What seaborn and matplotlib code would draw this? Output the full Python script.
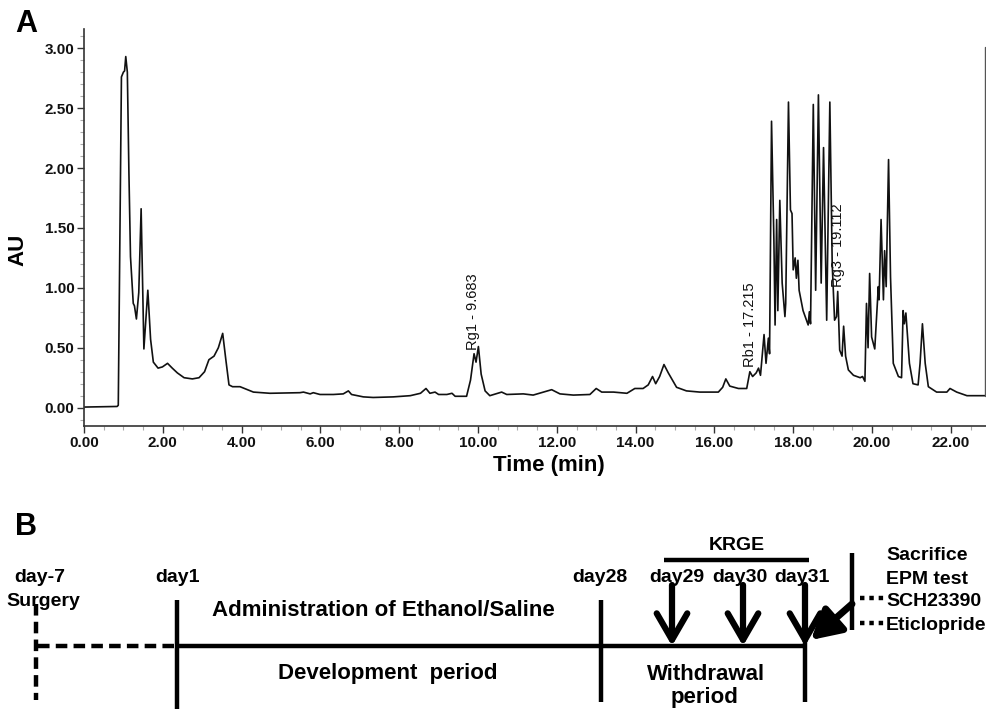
import numpy as np
import pandas as pd
import matplotlib
matplotlib.use("Agg")
import matplotlib.pyplot as plt
from matplotlib.ticker import MultipleLocator, FormatStrFormatter
import seaborn as sns

# ---------------- data ----------------
rt_min = [0.00, 0.84, 0.87, 0.95, 1.00, 1.03, 1.06, 1.10, 1.14, 1.18, 1.25, 1.28, 1.33, 1.39,
          1.45, 1.52, 1.62, 1.69, 1.76, 1.88, 1.99, 2.12, 2.24, 2.37, 2.54, 2.75, 2.92, 3.06,
          3.17, 3.30, 3.41, 3.52, 3.60, 3.68, 3.77, 3.96, 4.30, 4.72, 5.48, 5.57, 5.74, 5.82,
          5.99, 6.33, 6.58, 6.71, 6.79, 7.09, 7.34, 7.85, 8.28, 8.54, 8.68, 8.78, 8.91, 9.00,
          9.21, 9.34, 9.42, 9.71, 9.81, 9.90, 9.95, 10.01, 10.08, 10.18, 10.30, 10.60, 10.73,
          11.15, 11.40, 11.87, 12.08, 12.42, 12.84, 13.00, 13.14, 13.44, 13.78, 13.98, 14.19,
          14.32, 14.43, 14.51, 14.61, 14.72, 14.83, 15.04, 15.29, 15.63, 16.10, 16.21, 16.29,
          16.39, 16.61, 16.82, 16.86, 16.90, 16.97, 17.06, 17.12, 17.17, 17.26, 17.31, 17.37,
          17.40, 17.45, 17.51, 17.54, 17.58, 17.61, 17.66, 17.72, 17.79, 17.81, 17.88, 17.93,
          17.97, 18.00, 18.05, 18.08, 18.12, 18.15, 18.25, 18.38, 18.41, 18.44, 18.51, 18.57,
          18.64, 18.71, 18.77, 18.85, 18.93, 18.99, 19.05, 19.10, 19.13, 19.18, 19.24, 19.28,
          19.33, 19.40, 19.53, 19.70, 19.76, 19.82, 19.86, 19.90, 19.94, 19.99, 20.07, 20.16,
          20.18, 20.23, 20.29, 20.32, 20.36, 20.42, 20.47, 20.54, 20.67, 20.75, 20.79, 20.82,
          20.86, 20.95, 21.04, 21.17, 21.22, 21.28, 21.35, 21.43, 21.64, 21.90, 21.98, 22.15,
          22.41, 22.88]
absorbance = [0.005, 0.010, 0.02, 2.76, 2.80, 2.81, 2.93, 2.80, 1.96, 1.26, 0.87, 0.85, 0.74, 0.96,
              1.66, 0.49, 0.98, 0.57, 0.38, 0.33, 0.34, 0.37, 0.33, 0.29, 0.25, 0.24, 0.25, 0.30,
              0.40, 0.43, 0.50, 0.62, 0.40, 0.19, 0.175, 0.175, 0.13, 0.12, 0.125, 0.13, 0.115, 0.125,
              0.11, 0.11, 0.115, 0.14, 0.11, 0.09, 0.085, 0.09, 0.10, 0.12, 0.16, 0.12, 0.13, 0.11,
              0.11, 0.12, 0.095, 0.095, 0.23, 0.45, 0.38, 0.51, 0.28, 0.14, 0.10, 0.13, 0.11,
              0.115, 0.105, 0.15, 0.115, 0.105, 0.11, 0.16, 0.13, 0.13, 0.12, 0.16, 0.16,
              0.19, 0.26, 0.20, 0.26, 0.36, 0.29, 0.17, 0.14, 0.13, 0.13, 0.17, 0.24,
              0.18, 0.16, 0.16, 0.23, 0.30, 0.26, 0.29, 0.33, 0.27, 0.61, 0.37, 0.58,
              0.45, 2.39, 1.40, 0.69, 1.57, 0.81, 1.73, 1.04, 0.76, 0.87, 2.55, 1.65,
              1.62, 1.15, 1.25, 1.08, 1.23, 0.98, 0.81, 0.69, 0.80, 0.70, 2.53, 0.98,
              2.61, 1.04, 2.17, 0.73, 2.55, 1.20, 0.73, 0.76, 0.97, 0.48, 0.43, 0.68,
              0.43, 0.315, 0.27, 0.25, 0.26, 0.22, 0.87, 0.50, 1.12, 0.59, 0.49, 1.01,
              0.90, 1.57, 0.90, 1.31, 1.01, 2.07, 1.09, 0.37, 0.26, 0.25, 0.81, 0.70,
              0.79, 0.37, 0.20, 0.19, 0.37, 0.70, 0.37, 0.175, 0.13, 0.13, 0.16, 0.13,
              0.10, 0.10]

peak_names = ["Rg1", "Rb1", "Rg3"]
peak_times = [9.683, 17.215, 19.112]
label_x = [9.87, 16.90, 19.14]
label_y = [0.48, 0.34, 1.01]

x_ticks = [0, 2, 4, 6, 8, 10, 12, 14, 16, 18, 20, 22]
y_ticks = [0.0, 0.5, 1.0, 1.5, 2.0, 2.5, 3.0]

day_labels = ["day-7", "day1", "day28", "day29", "day30", "day31"]
treatments = ["Sacrifice", "EPM test", "SCH23390", "Eticlopride"]

# ---------------- style ----------------
sns.set_theme(style="white")
plt.rcParams["font.family"] = ["Liberation Sans", "DejaVu Sans"]
plt.rcParams["text.color"] = "black"
plt.rcParams["axes.labelcolor"] = "black"
plt.rcParams["xtick.color"] = "black"
plt.rcParams["ytick.color"] = "black"

W, H = 986, 709
fig = plt.figure(figsize=(W / 100, H / 100), dpi=100)

# ---------------- panel A ----------------
ax = fig.add_axes([84 / W, 1 - 426 / H, (W - 84) / W, (426 - 29) / H])
df = pd.DataFrame({"Time (min)": rt_min, "AU": absorbance})
sns.lineplot(data=df, x="Time (min)", y="AU", ax=ax, estimator=None, sort=False,
             color="#111111", lw=1.2)
ax.set_xlim(0, (W - 84) / 39.4)
ax.set_ylim(-0.153, 3.16)
ax.set_xticks(x_ticks)
ax.set_yticks(y_ticks)
ax.xaxis.set_major_formatter(FormatStrFormatter("%.2f"))
ax.yaxis.set_major_formatter(FormatStrFormatter("%.2f"))
ax.xaxis.set_minor_locator(MultipleLocator(0.5))
ax.yaxis.set_minor_locator(MultipleLocator(0.1))
ax.tick_params(axis="both", which="major", direction="out", length=5, width=1.0,
               color="#333333", labelsize=11, pad=2, bottom=True, left=True,
               labelcolor="#111111")
ax.tick_params(axis="both", which="minor", direction="out", length=3, width=0.8,
               color="#aaaaaa", bottom=True, left=True)
for lab in ax.get_xticklabels() + ax.get_yticklabels():
    lab.set_fontweight("bold")
for s in ["top", "right"]:
    ax.spines[s].set_visible(False)
for s in ["left", "bottom"]:
    ax.spines[s].set_color("#333333")
    ax.spines[s].set_linewidth(1.2)
ax.set_xlabel("")
ax.set_ylabel("")
ax.plot([22.87, 22.87], [0.10, 3.01], color="#555555", lw=1.0, clip_on=False)

for name, t, lx, ly in zip(peak_names, peak_times, label_x, label_y):
    ax.text(lx, ly, f"{name} - {t:.3f}", rotation=90, ha="center", va="bottom",
            fontsize=10.5, color="#111111")

# ---------------- panel B (schematic, pixel coordinates) ----------------
bx = fig.add_axes([0, 0, 1, 1], facecolor="none")
bx.set_xlim(0, W)
bx.set_ylim(H, 0)
bx.axis("off")

fig.text(15 / W, 1 - 24 / H, "A", fontsize=22, fontweight="bold", ha="left", va="center")
fig.text(15 / W, 1 - 527 / H, "B", fontsize=22, fontweight="bold", ha="left", va="center")
fig.text(18 / W, 1 - 250 / H, "AU", fontsize=16, fontweight="bold", rotation=90,
         ha="center", va="center")
fig.text(549 / W, 1 - 465 / H, "Time (min)", fontsize=16, fontweight="bold",
         ha="center", va="center")

k = "black"
lw = 3.2
# dashed surgery lines
bx.plot([36, 36], [604, 700], color=k, lw=lw, ls=(0, (2.6, 1.4)), solid_capstyle="butt")
bx.plot([38, 176], [646, 646], color=k, lw=lw, ls=(0, (2.6, 1.4)), solid_capstyle="butt")
# solid timeline
bx.plot([177, 805], [646, 646], color=k, lw=lw, solid_capstyle="butt")
bx.plot([177, 177], [600, 709], color=k, lw=lw, solid_capstyle="butt")
bx.plot([601, 601], [600, 702], color=k, lw=lw, solid_capstyle="butt")
bx.plot([805, 805], [585, 702], color=k, lw=lw, solid_capstyle="butt")
# KRGE bar
bx.plot([664, 809], [560, 560], color=k, lw=lw, solid_capstyle="butt")
bx.text(737, 545, "KRGE", fontsize=14, fontweight="bold", ha="center", va="center")
# KRGE arrows
for xa in [672, 743, 805]:
    bx.annotate("", xy=(xa, 646), xytext=(xa, 585),
                arrowprops=dict(arrowstyle="->,head_length=0.95,head_width=0.55",
                                lw=4.5, color=k, shrinkA=0, shrinkB=0,
                                mutation_scale=20))
# test bar and filled arrow
bx.plot([852, 852], [553, 630], color=k, lw=lw, solid_capstyle="butt")
bx.annotate("", xy=(811, 640), xytext=(852, 604),
            arrowprops=dict(arrowstyle="-|>,head_length=0.8,head_width=0.45",
                            lw=5, color=k, shrinkA=0, shrinkB=0, mutation_scale=22))
for yy in [598, 623]:
    bx.plot([860, 884], [yy, yy], color=k, lw=3.2, ls=(0, (1, 1.1)), solid_capstyle="butt")

# day labels
day_x = [40, 177, 600, 677, 740, 802]
for lab, xx in zip(day_labels, day_x):
    bx.text(xx, 577, lab, fontsize=14, fontweight="bold", ha="center", va="center")
bx.text(43, 602, "Surgery", fontsize=14, fontweight="bold", ha="center", va="center")

bx.text(383, 611, "Administration of Ethanol/Saline", fontsize=16, fontweight="bold",
        ha="center", va="center")
bx.text(388, 674, "Development  period", fontsize=16, fontweight="bold",
        ha="center", va="center")
bx.text(706, 674, "Withdrawal", fontsize=16, fontweight="bold", ha="center", va="center")
bx.text(705, 697, "period", fontsize=16, fontweight="bold", ha="center", va="center")

treat_y = [556, 579, 602, 626]
for lab, yy in zip(treatments, treat_y):
    bx.text(886, yy, lab, fontsize=14, fontweight="bold", ha="left", va="center")

fig.savefig("out.png", dpi=100, facecolor="white")
